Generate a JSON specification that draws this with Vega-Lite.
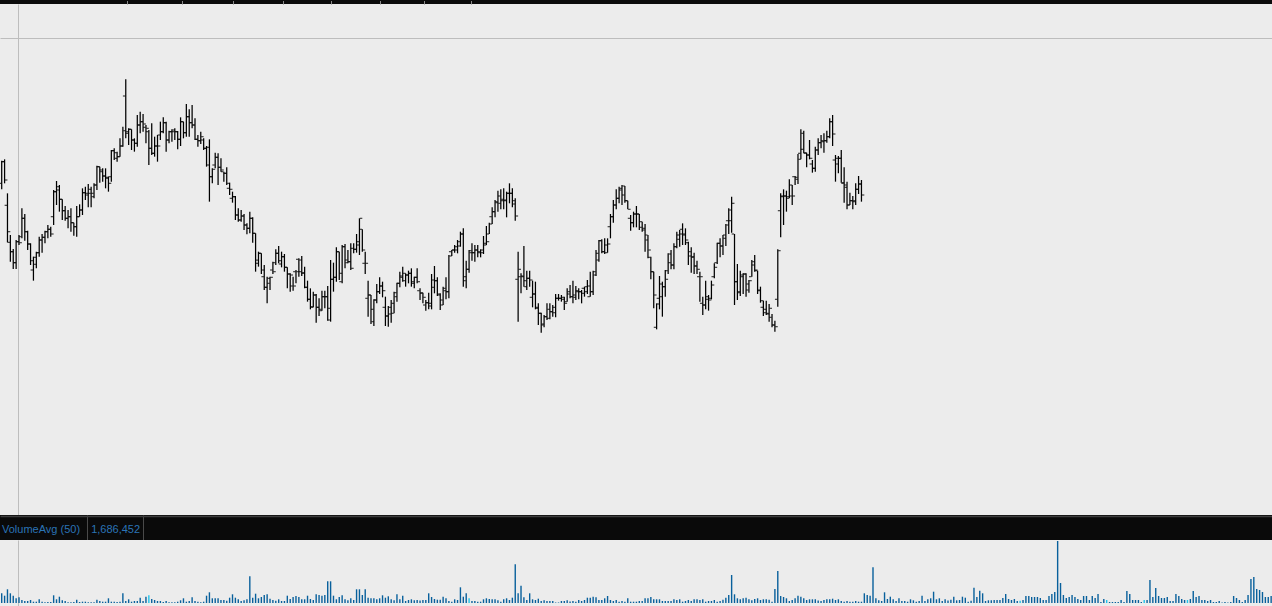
{
"$schema": "https://vega.github.io/schema/vega-lite/v6.json",
"background": "#0c0c0c",
"padding": 0,
"spacing": 0,
"config": {"view": {"stroke": null}, "axis": {"minExtent": 0, "maxExtent": 0, "tickSize": 0, "labels": false, "title": null, "domain": false, "ticks": false}},
"datasets": {
"px": [
{"d":0,"o":116.0,"h":122.8,"l":114.2,"c":122.5},{"d":1,"o":122.5,"h":123.2,"l":116.0,"c":117.0},{"d":2,"o":109.4,"h":113.0,"l":98.3,"c":101.5},{"d":3,"o":98.3,"h":100.5,"l":92.5,"c":95.5},{"d":4,"o":95.5,"h":96.3,"l":90.3,"c":92.2},{"d":5,"o":92.2,"h":99.0,"l":90.3,"c":98.5},{"d":6,"o":98.5,"h":100.5,"l":97.5,"c":98.2},{"d":7,"o":100.0,"h":108.5,"l":99.5,"c":105.5},{"d":8,"o":105.5,"h":106.8,"l":98.8,"c":101.5},{"d":9,"o":101.5,"h":101.8,"l":96.0,"c":97.8},
{"d":10,"o":97.8,"h":98.0,"l":91.5,"c":92.8},{"d":11,"o":90.0,"h":94.0,"l":86.8,"c":91.7},{"d":12,"o":93.8,"h":95.5,"l":90.5,"c":95.2},{"d":13,"o":95.2,"h":100.0,"l":94.0,"c":99.0},{"d":14,"o":99.0,"h":100.8,"l":95.2,"c":99.8},{"d":15,"o":99.8,"h":101.8,"l":98.0,"c":101.5},{"d":16,"o":101.5,"h":103.5,"l":99.5,"c":102.2},{"d":17,"o":102.2,"h":103.0,"l":100.0,"c":100.8},{"d":18,"o":106.0,"h":114.0,"l":103.5,"c":113.5},{"d":19,"o":113.5,"h":116.7,"l":109.5,"c":115.0},
{"d":20,"o":114.0,"h":115.5,"l":107.5,"c":111.2},{"d":21,"o":111.2,"h":111.2,"l":105.0,"c":107.8},{"d":22,"o":107.8,"h":109.2,"l":104.8,"c":105.5},{"d":23,"o":105.5,"h":108.0,"l":102.5,"c":106.0},{"d":24,"o":106.0,"h":108.5,"l":101.5,"c":104.2},{"d":25,"o":104.2,"h":104.2,"l":100.3,"c":103.0},{"d":26,"o":103.0,"h":109.2,"l":100.0,"c":106.0},{"d":27,"o":106.0,"h":109.7,"l":106.0,"c":108.0},{"d":28,"o":108.0,"h":114.5,"l":106.5,"c":113.2},{"d":29,"o":113.2,"h":115.0,"l":111.0,"c":112.5},
{"d":30,"o":113.0,"h":115.8,"l":108.8,"c":114.2},{"d":31,"o":113.0,"h":115.0,"l":108.8,"c":112.0},{"d":32,"o":113.0,"h":116.0,"l":111.5,"c":115.5},{"d":33,"o":115.5,"h":121.3,"l":114.0,"c":121.0},{"d":34,"o":121.0,"h":121.0,"l":116.2,"c":119.5},{"d":35,"o":120.0,"h":120.5,"l":116.5,"c":118.2},{"d":36,"o":118.2,"h":120.5,"l":114.5,"c":117.8},{"d":37,"o":117.5,"h":118.0,"l":113.5,"c":116.0},{"d":38,"o":118.0,"h":126.0,"l":116.5,"c":125.8},{"d":39,"o":125.8,"h":126.5,"l":123.0,"c":123.5},
{"d":40,"o":125.2,"h":125.5,"l":122.5,"c":124.0},{"d":41,"o":124.0,"h":129.5,"l":124.0,"c":127.2},{"d":42,"o":127.2,"h":133.0,"l":127.0,"c":131.8},{"d":43,"o":142.2,"h":147.2,"l":129.5,"c":131.5},{"d":44,"o":131.0,"h":132.5,"l":127.5,"c":132.2},{"d":45,"o":132.2,"h":132.2,"l":126.0,"c":129.0},{"d":46,"o":129.0,"h":129.5,"l":125.5,"c":128.0},{"d":47,"o":128.0,"h":136.5,"l":127.0,"c":133.5},{"d":48,"o":133.5,"h":137.5,"l":131.0,"c":134.5},{"d":49,"o":134.5,"h":136.8,"l":131.5,"c":133.8},
{"d":50,"o":132.8,"h":133.5,"l":128.0,"c":132.5},{"d":51,"o":131.5,"h":132.0,"l":121.5,"c":126.5},{"d":52,"o":126.5,"h":134.0,"l":124.5,"c":125.0},{"d":53,"o":125.0,"h":130.0,"l":124.0,"c":127.2},{"d":54,"o":127.2,"h":130.5,"l":122.5,"c":127.2},{"d":55,"o":130.5,"h":134.5,"l":129.0,"c":131.5},{"d":56,"o":131.5,"h":135.8,"l":131.0,"c":134.2},{"d":57,"o":134.2,"h":134.5,"l":125.5,"c":129.0},{"d":58,"o":129.0,"h":131.8,"l":128.0,"c":131.5},{"d":59,"o":131.5,"h":132.2,"l":128.5,"c":132.0},
{"d":60,"o":131.5,"h":132.5,"l":129.0,"c":131.5},{"d":61,"o":131.5,"h":131.7,"l":126.2,"c":129.2},{"d":62,"o":129.2,"h":135.8,"l":127.2,"c":134.5},{"d":63,"o":134.5,"h":134.5,"l":129.5,"c":131.2},{"d":64,"o":131.2,"h":139.8,"l":130.0,"c":136.0},{"d":65,"o":136.0,"h":138.2,"l":130.0,"c":134.2},{"d":66,"o":134.2,"h":139.5,"l":132.5,"c":133.5},{"d":67,"o":133.5,"h":135.5,"l":129.0,"c":129.2},{"d":68,"o":129.2,"h":130.5,"l":127.0,"c":128.8},{"d":69,"o":128.8,"h":131.5,"l":127.8,"c":130.0},
{"d":70,"o":129.0,"h":129.5,"l":126.0,"c":126.5},{"d":71,"o":126.5,"h":127.2,"l":121.0,"c":126.8},{"d":72,"o":121.5,"h":129.2,"l":110.5,"c":118.0},{"d":73,"o":118.0,"h":120.5,"l":116.0,"c":120.2},{"d":74,"o":121.5,"h":125.2,"l":120.5,"c":123.8},{"d":75,"o":123.8,"h":125.0,"l":115.5,"c":120.8},{"d":76,"o":120.8,"h":123.5,"l":119.5,"c":120.0},{"d":77,"o":119.5,"h":119.5,"l":116.5,"c":119.0},{"d":78,"o":119.0,"h":120.8,"l":115.5,"c":116.0},{"d":79,"o":114.5,"h":116.2,"l":112.5,"c":114.2},
{"d":80,"o":111.5,"h":113.5,"l":110.2,"c":112.0},{"d":81,"o":112.0,"h":112.2,"l":105.0,"c":106.5},{"d":82,"o":106.5,"h":108.5,"l":104.5,"c":105.0},{"d":83,"o":105.0,"h":108.0,"l":104.5,"c":106.2},{"d":84,"o":106.2,"h":106.8,"l":102.0,"c":103.5},{"d":85,"o":103.5,"h":104.0,"l":100.7,"c":102.5},{"d":86,"o":102.5,"h":107.5,"l":101.0,"c":105.5},{"d":87,"o":105.5,"h":105.8,"l":98.2,"c":101.0},{"d":88,"o":101.0,"h":101.0,"l":89.5,"c":93.0},{"d":89,"o":92.0,"h":95.5,"l":91.0,"c":95.0},
{"d":90,"o":95.0,"h":95.0,"l":88.8,"c":90.0},{"d":91,"o":88.0,"h":91.5,"l":84.0,"c":84.8},{"d":92,"o":84.8,"h":88.0,"l":80.0,"c":87.5},{"d":93,"o":86.0,"h":88.0,"l":84.0,"c":87.8},{"d":94,"o":90.0,"h":92.5,"l":88.8,"c":89.5},{"d":95,"o":92.2,"h":96.2,"l":91.5,"c":95.0},{"d":96,"o":95.0,"h":97.2,"l":92.0,"c":92.8},{"d":97,"o":91.8,"h":95.5,"l":90.8,"c":94.0},{"d":98,"o":94.0,"h":94.8,"l":89.5,"c":90.8},{"d":99,"o":90.8,"h":90.8,"l":84.5,"c":88.8},
{"d":100,"o":88.8,"h":89.0,"l":83.5,"c":88.5},{"d":101,"o":85.2,"h":88.0,"l":83.8,"c":85.2},{"d":102,"o":89.5,"h":90.0,"l":86.0,"c":89.5},{"d":103,"o":93.2,"h":93.5,"l":88.0,"c":93.0},{"d":104,"o":89.5,"h":94.2,"l":88.2,"c":89.2},{"d":105,"o":89.0,"h":91.0,"l":84.5,"c":84.8},{"d":106,"o":84.8,"h":86.8,"l":80.5,"c":81.2},{"d":107,"o":81.2,"h":84.5,"l":78.2,"c":78.8},{"d":108,"o":79.0,"h":83.5,"l":78.8,"c":82.5},{"d":109,"o":82.5,"h":82.8,"l":74.2,"c":78.8},
{"d":110,"o":78.8,"h":81.5,"l":76.2,"c":77.8},{"d":111,"o":78.2,"h":83.8,"l":77.8,"c":82.0},{"d":112,"o":82.0,"h":83.8,"l":78.5,"c":82.0},{"d":113,"o":82.0,"h":85.2,"l":74.8,"c":78.5},{"d":114,"o":75.0,"h":93.0,"l":74.5,"c":87.2},{"d":115,"o":87.2,"h":92.2,"l":83.5,"c":87.8},{"d":116,"o":87.8,"h":96.8,"l":86.5,"c":95.5},{"d":117,"o":95.5,"h":95.5,"l":87.0,"c":89.0},{"d":118,"o":86.5,"h":97.5,"l":86.0,"c":97.0},{"d":119,"o":97.0,"h":97.8,"l":90.5,"c":92.2},
{"d":120,"o":93.0,"h":96.0,"l":92.0,"c":92.5},{"d":121,"o":92.5,"h":98.0,"l":90.0,"c":90.5},{"d":122,"o":96.5,"h":98.0,"l":95.0,"c":96.2},{"d":123,"o":96.2,"h":100.8,"l":95.2,"c":98.5},{"d":124,"o":97.5,"h":105.5,"l":94.5,"c":105.5},{"d":125,"o":102.2,"h":102.2,"l":95.5,"c":96.0},{"d":126,"o":92.0,"h":95.5,"l":88.8,"c":92.0},{"d":127,"o":81.5,"h":86.8,"l":76.0,"c":82.5},{"d":128,"o":82.5,"h":82.5,"l":73.8,"c":74.5},{"d":129,"o":78.2,"h":81.2,"l":73.2,"c":81.0},
{"d":130,"o":81.0,"h":85.8,"l":80.0,"c":83.5},{"d":131,"o":83.5,"h":87.8,"l":82.8,"c":85.2},{"d":132,"o":85.2,"h":86.5,"l":81.8,"c":83.8},{"d":133,"o":78.8,"h":82.0,"l":73.2,"c":76.2},{"d":134,"o":76.2,"h":79.2,"l":73.0,"c":78.8},{"d":135,"o":76.8,"h":81.0,"l":74.2,"c":80.0},{"d":136,"o":77.0,"h":83.5,"l":77.0,"c":82.0},{"d":137,"o":83.2,"h":86.2,"l":80.5,"c":86.0},{"d":138,"o":86.0,"h":89.5,"l":84.8,"c":87.8},{"d":139,"o":88.2,"h":91.0,"l":86.5,"c":89.0},
{"d":140,"o":86.8,"h":89.0,"l":85.0,"c":88.5},{"d":141,"o":88.5,"h":89.8,"l":86.0,"c":89.0},{"d":142,"o":89.0,"h":90.5,"l":85.0,"c":86.0},{"d":143,"o":86.5,"h":88.0,"l":84.5,"c":87.8},{"d":144,"o":87.8,"h":90.5,"l":86.0,"c":86.5},{"d":145,"o":83.8,"h":84.5,"l":81.0,"c":83.2},{"d":146,"o":83.0,"h":83.2,"l":80.0,"c":81.8},{"d":147,"o":79.5,"h":81.0,"l":77.8,"c":80.2},{"d":148,"o":80.2,"h":83.2,"l":78.2,"c":79.2},{"d":149,"o":80.0,"h":88.8,"l":78.2,"c":87.0},
{"d":150,"o":84.8,"h":91.2,"l":83.0,"c":86.8},{"d":151,"o":86.8,"h":87.8,"l":82.2,"c":82.5},{"d":152,"o":82.8,"h":83.0,"l":78.0,"c":79.5},{"d":153,"o":81.0,"h":85.0,"l":79.5,"c":83.8},{"d":154,"o":84.5,"h":87.8,"l":81.2,"c":83.5},{"d":155,"o":83.5,"h":94.5,"l":81.5,"c":94.2},{"d":156,"o":95.5,"h":96.0,"l":94.2,"c":96.0},{"d":157,"o":96.0,"h":97.5,"l":95.2,"c":97.0},{"d":158,"o":96.0,"h":99.0,"l":95.0,"c":97.2},{"d":159,"o":98.5,"h":101.5,"l":97.0,"c":100.8},
{"d":160,"o":100.8,"h":102.5,"l":85.0,"c":88.0},{"d":161,"o":86.8,"h":92.8,"l":84.5,"c":90.2},{"d":162,"o":90.2,"h":96.0,"l":89.2,"c":95.2},{"d":163,"o":95.8,"h":98.0,"l":92.8,"c":95.2},{"d":164,"o":95.2,"h":97.5,"l":92.5,"c":96.0},{"d":165,"o":96.0,"h":97.5,"l":93.8,"c":95.2},{"d":166,"o":95.5,"h":96.2,"l":93.8,"c":95.2},{"d":167,"o":96.0,"h":100.2,"l":94.8,"c":97.5},{"d":168,"o":98.0,"h":103.2,"l":97.5,"c":98.5},{"d":169,"o":100.8,"h":104.2,"l":100.8,"c":103.8},
{"d":170,"o":106.0,"h":108.8,"l":103.8,"c":107.5},{"d":171,"o":107.5,"h":111.0,"l":105.8,"c":110.2},{"d":172,"o":110.5,"h":113.8,"l":107.5,"c":110.0},{"d":173,"o":112.2,"h":114.2,"l":108.2,"c":111.2},{"d":174,"o":110.8,"h":114.5,"l":108.2,"c":111.0},{"d":175,"o":110.8,"h":113.5,"l":105.8,"c":113.0},{"d":176,"o":113.0,"h":116.0,"l":110.0,"c":113.0},{"d":177,"o":113.0,"h":114.5,"l":108.8,"c":109.8},{"d":178,"o":110.8,"h":111.5,"l":104.8,"c":106.2},{"d":179,"o":87.2,"h":95.5,"l":74.5,"c":90.2},
{"d":180,"o":88.0,"h":89.0,"l":83.0,"c":88.0},{"d":181,"o":88.2,"h":97.2,"l":85.0,"c":85.0},{"d":182,"o":86.8,"h":89.8,"l":84.0,"c":87.5},{"d":183,"o":87.5,"h":89.8,"l":85.0,"c":87.0},{"d":184,"o":81.8,"h":86.8,"l":78.8,"c":82.8},{"d":185,"o":82.8,"h":86.5,"l":78.2,"c":78.8},{"d":186,"o":78.5,"h":80.0,"l":73.5,"c":77.0},{"d":187,"o":77.0,"h":77.2,"l":71.2,"c":73.8},{"d":188,"o":73.5,"h":76.5,"l":72.8,"c":76.0},{"d":189,"o":76.0,"h":80.0,"l":75.0,"c":78.2},
{"d":190,"o":75.5,"h":80.0,"l":75.2,"c":77.5},{"d":191,"o":77.5,"h":79.5,"l":76.0,"c":77.2},{"d":192,"o":78.8,"h":82.8,"l":75.8,"c":81.5},{"d":193,"o":81.5,"h":82.8,"l":80.8,"c":81.5},{"d":194,"o":81.5,"h":82.5,"l":80.5,"c":81.2},{"d":195,"o":81.8,"h":82.0,"l":78.0,"c":80.0},{"d":196,"o":80.5,"h":84.5,"l":80.5,"c":83.5},{"d":197,"o":82.8,"h":85.5,"l":81.5,"c":82.0},{"d":198,"o":82.0,"h":86.8,"l":80.0,"c":81.8},{"d":199,"o":82.5,"h":85.2,"l":81.0,"c":83.5},
{"d":200,"o":83.8,"h":84.5,"l":81.2,"c":83.5},{"d":201,"o":83.5,"h":84.0,"l":80.0,"c":83.0},{"d":202,"o":84.5,"h":85.0,"l":82.0,"c":85.0},{"d":203,"o":83.5,"h":87.0,"l":82.8,"c":85.2},{"d":204,"o":82.0,"h":89.5,"l":82.0,"c":83.5},{"d":205,"o":83.5,"h":89.8,"l":82.5,"c":88.5},{"d":206,"o":89.5,"h":96.0,"l":88.2,"c":93.0},{"d":207,"o":95.0,"h":99.0,"l":92.5,"c":98.8},{"d":208,"o":98.8,"h":99.2,"l":95.0,"c":95.5},{"d":209,"o":95.5,"h":99.5,"l":94.8,"c":95.2},
{"d":210,"o":97.5,"h":99.5,"l":95.2,"c":97.8},{"d":211,"o":103.0,"h":106.8,"l":99.5,"c":106.0},{"d":212,"o":106.0,"h":111.0,"l":104.2,"c":109.5},{"d":213,"o":109.5,"h":114.2,"l":108.2,"c":111.5},{"d":214,"o":111.5,"h":115.0,"l":110.0,"c":114.5},{"d":215,"o":114.0,"h":115.5,"l":109.5,"c":115.2},{"d":216,"o":112.5,"h":115.2,"l":110.2,"c":110.8},{"d":217,"o":110.8,"h":110.8,"l":108.2,"c":108.2},{"d":218,"o":105.5,"h":106.5,"l":101.8,"c":104.2},{"d":219,"o":104.2,"h":107.5,"l":102.8,"c":106.8},
{"d":220,"o":106.8,"h":109.2,"l":102.8,"c":106.8},{"d":221,"o":106.8,"h":106.8,"l":102.0,"c":104.5},{"d":222,"o":102.8,"h":104.5,"l":101.5,"c":102.5},{"d":223,"o":102.0,"h":103.8,"l":95.5,"c":99.0},{"d":224,"o":100.5,"h":100.5,"l":93.5,"c":96.0},{"d":225,"o":93.8,"h":94.0,"l":87.2,"c":89.5},{"d":226,"o":89.5,"h":89.5,"l":78.5,"c":82.5},{"d":227,"o":72.8,"h":80.0,"l":72.2,"c":79.8},{"d":228,"o":81.5,"h":88.2,"l":78.2,"c":85.8},{"d":229,"o":82.0,"h":86.5,"l":76.0,"c":85.0},
{"d":230,"o":85.0,"h":90.0,"l":82.0,"c":87.2},{"d":231,"o":89.8,"h":95.0,"l":88.8,"c":94.8},{"d":232,"o":92.2,"h":96.0,"l":90.2,"c":91.5},{"d":233,"o":91.5,"h":98.0,"l":90.2,"c":97.0},{"d":234,"o":97.0,"h":101.5,"l":96.5,"c":99.2},{"d":235,"o":100.5,"h":102.0,"l":97.0,"c":100.8},{"d":236,"o":102.2,"h":104.0,"l":97.5,"c":100.5},{"d":237,"o":100.8,"h":102.5,"l":97.5,"c":99.0},{"d":238,"o":98.2,"h":98.5,"l":91.5,"c":94.2},{"d":239,"o":95.5,"h":96.8,"l":89.2,"c":94.0},
{"d":240,"o":93.8,"h":95.2,"l":88.8,"c":91.2},{"d":241,"o":91.2,"h":92.8,"l":88.8,"c":90.2},{"d":242,"o":88.0,"h":89.5,"l":80.5,"c":88.0},{"d":243,"o":80.0,"h":82.0,"l":76.5,"c":79.5},{"d":244,"o":79.5,"h":86.8,"l":78.2,"c":82.0},{"d":245,"o":81.2,"h":82.5,"l":77.8,"c":81.0},{"d":246,"o":81.5,"h":86.8,"l":81.2,"c":85.5},{"d":247,"o":88.0,"h":92.0,"l":87.5,"c":90.8},{"d":248,"o":92.2,"h":98.2,"l":91.8,"c":98.0},{"d":249,"o":98.0,"h":99.5,"l":93.8,"c":97.2},
{"d":250,"o":97.2,"h":100.5,"l":94.5,"c":99.5},{"d":251,"o":100.5,"h":103.8,"l":97.2,"c":103.5},{"d":252,"o":104.8,"h":108.5,"l":100.8,"c":108.0},{"d":253,"o":104.8,"h":112.0,"l":101.2,"c":110.0},{"d":254,"o":100.8,"h":100.8,"l":79.5,"c":86.5},{"d":255,"o":86.5,"h":91.8,"l":81.0,"c":83.5},{"d":256,"o":83.2,"h":89.8,"l":82.2,"c":88.0},{"d":257,"o":88.5,"h":89.0,"l":82.8,"c":88.8},{"d":258,"o":88.8,"h":89.0,"l":82.0,"c":85.8},{"d":259,"o":84.0,"h":87.0,"l":83.2,"c":86.8},
{"d":260,"o":88.0,"h":93.0,"l":88.0,"c":92.5},{"d":261,"o":91.5,"h":94.5,"l":89.5,"c":90.0},{"d":262,"o":89.8,"h":89.8,"l":82.8,"c":84.0},{"d":263,"o":83.8,"h":85.0,"l":80.2,"c":80.8},{"d":264,"o":78.8,"h":80.8,"l":76.2,"c":78.2},{"d":265,"o":77.2,"h":80.8,"l":76.5,"c":76.8},{"d":266,"o":77.0,"h":79.8,"l":74.5,"c":78.5},{"d":267,"o":75.8,"h":76.8,"l":72.8,"c":73.5},{"d":268,"o":73.5,"h":74.8,"l":71.5,"c":73.0},{"d":269,"o":81.2,"h":96.2,"l":79.0,"c":95.8},
{"d":270,"o":107.8,"h":113.0,"l":99.8,"c":112.0},{"d":271,"o":112.2,"h":114.2,"l":103.5,"c":112.2},{"d":272,"o":112.2,"h":113.8,"l":107.5,"c":112.0},{"d":273,"o":111.5,"h":117.2,"l":111.5,"c":115.5},{"d":274,"o":112.2,"h":115.5,"l":109.5,"c":112.2},{"d":275,"o":118.0,"h":118.2,"l":115.5,"c":117.2},{"d":276,"o":117.8,"h":124.8,"l":115.8,"c":123.2},{"d":277,"o":125.0,"h":132.2,"l":123.2,"c":131.0},{"d":278,"o":126.2,"h":131.8,"l":125.0,"c":125.2},{"d":279,"o":125.0,"h":125.2,"l":120.8,"c":124.5},
{"d":280,"o":124.5,"h":129.0,"l":123.2,"c":123.5},{"d":281,"o":121.8,"h":123.0,"l":119.2,"c":120.5},{"d":282,"o":120.5,"h":127.0,"l":119.5,"c":126.0},{"d":283,"o":126.0,"h":129.5,"l":124.5,"c":128.2},{"d":284,"o":128.2,"h":130.5,"l":126.5,"c":128.5},{"d":285,"o":128.8,"h":131.0,"l":125.2,"c":128.8},{"d":286,"o":128.8,"h":131.8,"l":128.2,"c":130.0},{"d":287,"o":130.0,"h":135.5,"l":129.5,"c":134.5},{"d":288,"o":134.5,"h":136.5,"l":127.2,"c":130.8},{"d":289,"o":123.0,"h":124.5,"l":116.5,"c":121.8},
{"d":290,"o":123.5,"h":124.2,"l":119.0,"c":123.5},{"d":291,"o":123.5,"h":126.0,"l":116.2,"c":116.2},{"d":292,"o":116.0,"h":120.8,"l":110.2,"c":114.8},{"d":293,"o":115.5,"h":116.5,"l":108.2,"c":109.5},{"d":294,"o":109.5,"h":113.2,"l":109.5,"c":110.8},{"d":295,"o":110.8,"h":112.2,"l":108.2,"c":110.8},{"d":296,"o":110.5,"h":116.0,"l":109.5,"c":114.2},{"d":297,"o":114.2,"h":118.2,"l":112.8,"c":115.8},{"d":298,"o":115.8,"h":117.0,"l":110.5,"c":112.5}
],
"vol": [
{"d":0,"v":9.7,"k":"a"},{"d":1,"v":7.3,"k":"a"},{"d":2,"v":13.7,"k":"a"},{"d":3,"v":9.7,"k":"a"},{"d":4,"v":7.3,"k":"a"},{"d":5,"v":4.7,"k":"a"},{"d":6,"v":5.7,"k":"a"},{"d":7,"v":3,"k":"a"},{"d":8,"v":2,"k":"a"},{"d":9,"v":2,"k":"a"},
{"d":10,"v":3,"k":"a"},{"d":11,"v":1.3,"k":"a"},{"d":12,"v":1.3,"k":"a"},{"d":13,"v":3.7,"k":"a"},{"d":14,"v":1.3,"k":"a"},{"d":15,"v":0.7,"k":"a"},{"d":16,"v":1,"k":"a"},{"d":17,"v":1,"k":"a"},{"d":18,"v":7.7,"k":"a"},{"d":19,"v":3.7,"k":"a"},
{"d":20,"v":6.3,"k":"a"},{"d":21,"v":2.7,"k":"a"},{"d":22,"v":2,"k":"a"},{"d":23,"v":0.7,"k":"a"},{"d":24,"v":0.7,"k":"a"},{"d":25,"v":1,"k":"a"},{"d":26,"v":3.3,"k":"a"},{"d":27,"v":1,"k":"a"},{"d":28,"v":1.3,"k":"a"},{"d":29,"v":1.3,"k":"a"},
{"d":30,"v":0.7,"k":"a"},{"d":31,"v":0.7,"k":"a"},{"d":32,"v":0.7,"k":"a"},{"d":33,"v":3.3,"k":"a"},{"d":34,"v":2,"k":"a"},{"d":35,"v":1.3,"k":"a"},{"d":36,"v":1.3,"k":"a"},{"d":37,"v":4.7,"k":"a"},{"d":38,"v":1.3,"k":"a"},{"d":39,"v":1.3,"k":"a"},
{"d":40,"v":1,"k":"a"},{"d":41,"v":1.3,"k":"a"},{"d":42,"v":9.7,"k":"a"},{"d":43,"v":2,"k":"a"},{"d":44,"v":3.7,"k":"a"},{"d":45,"v":1.3,"k":"a"},{"d":46,"v":2,"k":"a"},{"d":47,"v":2,"k":"a"},{"d":48,"v":5.3,"k":"a"},{"d":49,"v":2,"k":"a"},
{"d":50,"v":6.3,"k":"a"},{"d":51,"v":7.7,"k":"b"},{"d":52,"v":4,"k":"a"},{"d":53,"v":3,"k":"a"},{"d":54,"v":2,"k":"a"},{"d":55,"v":2,"k":"a"},{"d":56,"v":1,"k":"a"},{"d":57,"v":2,"k":"a"},{"d":58,"v":0.7,"k":"a"},{"d":59,"v":0.7,"k":"a"},
{"d":60,"v":0.7,"k":"a"},{"d":61,"v":1.3,"k":"a"},{"d":62,"v":2.7,"k":"a"},{"d":63,"v":4.7,"k":"a"},{"d":64,"v":1.3,"k":"a"},{"d":65,"v":2,"k":"a"},{"d":66,"v":5.7,"k":"a"},{"d":67,"v":2,"k":"a"},{"d":68,"v":1.3,"k":"a"},{"d":69,"v":0.7,"k":"a"},
{"d":70,"v":1.3,"k":"a"},{"d":71,"v":7.3,"k":"a"},{"d":72,"v":10.7,"k":"a"},{"d":73,"v":4.7,"k":"a"},{"d":74,"v":4.7,"k":"a"},{"d":75,"v":4.7,"k":"a"},{"d":76,"v":3,"k":"a"},{"d":77,"v":3,"k":"a"},{"d":78,"v":2.3,"k":"a"},{"d":79,"v":5.3,"k":"a"},
{"d":80,"v":8.7,"k":"a"},{"d":81,"v":5.3,"k":"a"},{"d":82,"v":3.7,"k":"a"},{"d":83,"v":2,"k":"a"},{"d":84,"v":2.7,"k":"a"},{"d":85,"v":3.7,"k":"a"},{"d":86,"v":26.7,"k":"a"},{"d":87,"v":5.3,"k":"a"},{"d":88,"v":9.3,"k":"a"},{"d":89,"v":4.7,"k":"a"},
{"d":90,"v":6,"k":"a"},{"d":91,"v":8,"k":"a"},{"d":92,"v":8.7,"k":"a"},{"d":93,"v":4.3,"k":"a"},{"d":94,"v":3,"k":"a"},{"d":95,"v":2.3,"k":"a"},{"d":96,"v":3.7,"k":"a"},{"d":97,"v":2,"k":"a"},{"d":98,"v":2,"k":"a"},{"d":99,"v":7.3,"k":"a"},
{"d":100,"v":4,"k":"a"},{"d":101,"v":6,"k":"a"},{"d":102,"v":7,"k":"a"},{"d":103,"v":6,"k":"a"},{"d":104,"v":3.7,"k":"a"},{"d":105,"v":3.7,"k":"a"},{"d":106,"v":7.3,"k":"a"},{"d":107,"v":4,"k":"a"},{"d":108,"v":3,"k":"a"},{"d":109,"v":8.7,"k":"a"},
{"d":110,"v":8,"k":"a"},{"d":111,"v":7.3,"k":"a"},{"d":112,"v":8,"k":"a"},{"d":113,"v":21.7,"k":"a"},{"d":114,"v":21.7,"k":"a"},{"d":115,"v":7.3,"k":"a"},{"d":116,"v":3.7,"k":"a"},{"d":117,"v":6,"k":"a"},{"d":118,"v":7.7,"k":"a"},{"d":119,"v":3.7,"k":"a"},
{"d":120,"v":2.7,"k":"a"},{"d":121,"v":4.7,"k":"a"},{"d":122,"v":3,"k":"a"},{"d":123,"v":13.7,"k":"a"},{"d":124,"v":13.7,"k":"a"},{"d":125,"v":8,"k":"a"},{"d":126,"v":13.7,"k":"a"},{"d":127,"v":5.3,"k":"a"},{"d":128,"v":4.7,"k":"a"},{"d":129,"v":4.7,"k":"a"},
{"d":130,"v":3.7,"k":"a"},{"d":131,"v":4.7,"k":"a"},{"d":132,"v":7.7,"k":"a"},{"d":133,"v":5.3,"k":"a"},{"d":134,"v":6.7,"k":"a"},{"d":135,"v":3.7,"k":"a"},{"d":136,"v":2.7,"k":"a"},{"d":137,"v":8.7,"k":"a"},{"d":138,"v":3.7,"k":"a"},{"d":139,"v":7.3,"k":"a"},
{"d":140,"v":2,"k":"a"},{"d":141,"v":3,"k":"a"},{"d":142,"v":3.7,"k":"a"},{"d":143,"v":2.7,"k":"a"},{"d":144,"v":3,"k":"a"},{"d":145,"v":2.5,"k":"a"},{"d":146,"v":3,"k":"a"},{"d":147,"v":3,"k":"a"},{"d":148,"v":9.7,"k":"a"},{"d":149,"v":6,"k":"a"},
{"d":150,"v":4,"k":"a"},{"d":151,"v":3.3,"k":"a"},{"d":152,"v":3.3,"k":"a"},{"d":153,"v":6.3,"k":"a"},{"d":154,"v":4.7,"k":"a"},{"d":155,"v":2,"k":"a"},{"d":156,"v":1.3,"k":"a"},{"d":157,"v":3.7,"k":"a"},{"d":158,"v":3,"k":"a"},{"d":159,"v":15.7,"k":"a"},
{"d":160,"v":6.3,"k":"a"},{"d":161,"v":9.7,"k":"a"},{"d":162,"v":4.7,"k":"b"},{"d":163,"v":2,"k":"a"},{"d":164,"v":2,"k":"a"},{"d":165,"v":1.3,"k":"a"},{"d":166,"v":1.3,"k":"a"},{"d":167,"v":3.7,"k":"a"},{"d":168,"v":4.7,"k":"a"},{"d":169,"v":4,"k":"a"},
{"d":170,"v":3.7,"k":"a"},{"d":171,"v":3.7,"k":"a"},{"d":172,"v":2.7,"k":"a"},{"d":173,"v":1.3,"k":"a"},{"d":174,"v":3.7,"k":"a"},{"d":175,"v":4.7,"k":"a"},{"d":176,"v":3,"k":"a"},{"d":177,"v":5.3,"k":"a"},{"d":178,"v":38.7,"k":"a"},{"d":179,"v":9.7,"k":"a"},
{"d":180,"v":17.3,"k":"a"},{"d":181,"v":5.7,"k":"a"},{"d":182,"v":3,"k":"a"},{"d":183,"v":9.7,"k":"a"},{"d":184,"v":3.7,"k":"a"},{"d":185,"v":3,"k":"a"},{"d":186,"v":4.3,"k":"a"},{"d":187,"v":2,"k":"a"},{"d":188,"v":2.7,"k":"a"},{"d":189,"v":2,"k":"a"},
{"d":190,"v":2,"k":"a"},{"d":191,"v":2,"k":"a"},{"d":192,"v":0.5,"k":"a"},{"d":193,"v":0.5,"k":"a"},{"d":194,"v":2,"k":"a"},{"d":195,"v":2,"k":"a"},{"d":196,"v":2.7,"k":"a"},{"d":197,"v":1.5,"k":"a"},{"d":198,"v":2,"k":"a"},{"d":199,"v":1.3,"k":"a"},
{"d":200,"v":3,"k":"a"},{"d":201,"v":2,"k":"a"},{"d":202,"v":3,"k":"a"},{"d":203,"v":5.3,"k":"a"},{"d":204,"v":5.3,"k":"a"},{"d":205,"v":6.3,"k":"a"},{"d":206,"v":5.7,"k":"a"},{"d":207,"v":3,"k":"a"},{"d":208,"v":3,"k":"a"},{"d":209,"v":4.7,"k":"a"},
{"d":210,"v":7,"k":"a"},{"d":211,"v":3,"k":"a"},{"d":212,"v":2,"k":"a"},{"d":213,"v":3,"k":"a"},{"d":214,"v":1.3,"k":"a"},{"d":215,"v":2,"k":"a"},{"d":216,"v":1.3,"k":"a"},{"d":217,"v":4.7,"k":"a"},{"d":218,"v":1.3,"k":"a"},{"d":219,"v":1.3,"k":"a"},
{"d":220,"v":1.3,"k":"a"},{"d":221,"v":2,"k":"a"},{"d":222,"v":2,"k":"a"},{"d":223,"v":4.7,"k":"a"},{"d":224,"v":4.7,"k":"a"},{"d":225,"v":6,"k":"a"},{"d":226,"v":3.7,"k":"a"},{"d":227,"v":3.7,"k":"a"},{"d":228,"v":3.7,"k":"a"},{"d":229,"v":2,"k":"a"},
{"d":230,"v":2,"k":"a"},{"d":231,"v":2,"k":"a"},{"d":232,"v":2,"k":"a"},{"d":233,"v":3.7,"k":"a"},{"d":234,"v":3,"k":"a"},{"d":235,"v":3.7,"k":"a"},{"d":236,"v":1.3,"k":"a"},{"d":237,"v":2,"k":"a"},{"d":238,"v":3,"k":"a"},{"d":239,"v":2,"k":"a"},
{"d":240,"v":3.7,"k":"a"},{"d":241,"v":3.7,"k":"a"},{"d":242,"v":3,"k":"a"},{"d":243,"v":3.7,"k":"a"},{"d":244,"v":1.3,"k":"a"},{"d":245,"v":2,"k":"a"},{"d":246,"v":2,"k":"a"},{"d":247,"v":3,"k":"a"},{"d":248,"v":1.3,"k":"a"},{"d":249,"v":2,"k":"a"},
{"d":250,"v":3.3,"k":"a"},{"d":251,"v":5.3,"k":"a"},{"d":252,"v":8,"k":"a"},{"d":253,"v":28,"k":"a"},{"d":254,"v":8.7,"k":"a"},{"d":255,"v":4.7,"k":"a"},{"d":256,"v":3.7,"k":"a"},{"d":257,"v":4.7,"k":"a"},{"d":258,"v":5.3,"k":"a"},{"d":259,"v":3.7,"k":"a"},
{"d":260,"v":2.7,"k":"a"},{"d":261,"v":4,"k":"a"},{"d":262,"v":4.7,"k":"a"},{"d":263,"v":3,"k":"a"},{"d":264,"v":3.7,"k":"a"},{"d":265,"v":3.7,"k":"a"},{"d":266,"v":3.3,"k":"a"},{"d":267,"v":1.3,"k":"a"},{"d":268,"v":14,"k":"a"},{"d":269,"v":32,"k":"a"},
{"d":270,"v":7,"k":"a"},{"d":271,"v":6,"k":"a"},{"d":272,"v":4.7,"k":"a"},{"d":273,"v":2,"k":"a"},{"d":274,"v":3,"k":"a"},{"d":275,"v":4.7,"k":"a"},{"d":276,"v":7.3,"k":"a"},{"d":277,"v":6.3,"k":"a"},{"d":278,"v":4.7,"k":"a"},{"d":279,"v":3,"k":"a"},
{"d":280,"v":3.7,"k":"a"},{"d":281,"v":3.7,"k":"a"},{"d":282,"v":3.7,"k":"a"},{"d":283,"v":2.5,"k":"a"},{"d":284,"v":2,"k":"a"},{"d":285,"v":3,"k":"a"},{"d":286,"v":3.7,"k":"a"},{"d":287,"v":3.7,"k":"a"},{"d":288,"v":4.3,"k":"a"},{"d":289,"v":3,"k":"a"},
{"d":290,"v":3.7,"k":"a"},{"d":291,"v":2,"k":"a"},{"d":292,"v":1.3,"k":"a"},{"d":293,"v":2,"k":"a"},{"d":294,"v":1.3,"k":"a"},{"d":295,"v":1.3,"k":"a"},{"d":296,"v":2,"k":"a"},{"d":297,"v":1.3,"k":"a"},{"d":298,"v":1.3,"k":"a"},{"d":299,"v":9.7,"k":"a"},
{"d":300,"v":8,"k":"a"},{"d":301,"v":7.3,"k":"a"},{"d":302,"v":35.7,"k":"a"},{"d":303,"v":4.7,"k":"a"},{"d":304,"v":2.7,"k":"a"},{"d":305,"v":2,"k":"a"},{"d":306,"v":10.7,"k":"a"},{"d":307,"v":4,"k":"a"},{"d":308,"v":6.3,"k":"a"},{"d":309,"v":3.7,"k":"a"},
{"d":310,"v":2,"k":"a"},{"d":311,"v":4.7,"k":"a"},{"d":312,"v":2,"k":"a"},{"d":313,"v":2,"k":"a"},{"d":314,"v":1.3,"k":"a"},{"d":315,"v":3.7,"k":"a"},{"d":316,"v":2.7,"k":"a"},{"d":317,"v":1.3,"k":"a"},{"d":318,"v":2,"k":"a"},{"d":319,"v":7.3,"k":"a"},
{"d":320,"v":2,"k":"a"},{"d":321,"v":3.7,"k":"a"},{"d":322,"v":4.7,"k":"a"},{"d":323,"v":11.3,"k":"a"},{"d":324,"v":3.7,"k":"a"},{"d":325,"v":4.7,"k":"a"},{"d":326,"v":2,"k":"a"},{"d":327,"v":3.7,"k":"a"},{"d":328,"v":2.5,"k":"a"},{"d":329,"v":3.3,"k":"a"},
{"d":330,"v":6.3,"k":"a"},{"d":331,"v":2.7,"k":"a"},{"d":332,"v":3,"k":"a"},{"d":333,"v":6.3,"k":"a"},{"d":334,"v":5.3,"k":"a"},{"d":335,"v":1.3,"k":"a"},{"d":336,"v":2.3,"k":"a"},{"d":337,"v":15.3,"k":"a"},{"d":338,"v":6,"k":"a"},{"d":339,"v":12.3,"k":"a"},
{"d":340,"v":9.7,"k":"a"},{"d":341,"v":2,"k":"a"},{"d":342,"v":2.7,"k":"a"},{"d":343,"v":2.7,"k":"a"},{"d":344,"v":3,"k":"a"},{"d":345,"v":3,"k":"a"},{"d":346,"v":3,"k":"a"},{"d":347,"v":5,"k":"a"},{"d":348,"v":9,"k":"a"},{"d":349,"v":4,"k":"a"},
{"d":350,"v":3,"k":"a"},{"d":351,"v":4,"k":"a"},{"d":352,"v":2,"k":"a"},{"d":353,"v":2.3,"k":"b"},{"d":354,"v":3,"k":"a"},{"d":355,"v":7,"k":"a"},{"d":356,"v":7,"k":"a"},{"d":357,"v":6,"k":"a"},{"d":358,"v":6,"k":"a"},{"d":359,"v":6,"k":"a"},
{"d":360,"v":5,"k":"a"},{"d":361,"v":3,"k":"a"},{"d":362,"v":3,"k":"a"},{"d":363,"v":7,"k":"a"},{"d":364,"v":9,"k":"a"},{"d":365,"v":11,"k":"a"},{"d":366,"v":62,"k":"a"},{"d":367,"v":20,"k":"a"},{"d":368,"v":8,"k":"a"},{"d":369,"v":5,"k":"a"},
{"d":370,"v":6,"k":"a"},{"d":371,"v":8,"k":"a"},{"d":372,"v":6,"k":"a"},{"d":373,"v":4,"k":"a"},{"d":374,"v":3,"k":"a"},{"d":375,"v":7,"k":"a"},{"d":376,"v":7,"k":"a"},{"d":377,"v":3,"k":"a"},{"d":378,"v":7,"k":"a"},{"d":379,"v":5,"k":"a"},
{"d":380,"v":9,"k":"a"},{"d":381,"v":1,"k":"a"},{"d":382,"v":4,"k":"a"},{"d":383,"v":3,"k":"b"},{"d":384,"v":1,"k":"a"},{"d":385,"v":1,"k":"a"},{"d":386,"v":1,"k":"a"},{"d":387,"v":1,"k":"a"},{"d":388,"v":3,"k":"a"},{"d":389,"v":1,"k":"a"},
{"d":390,"v":12,"k":"a"},{"d":391,"v":9,"k":"a"},{"d":392,"v":3,"k":"a"},{"d":393,"v":3,"k":"a"},{"d":394,"v":3,"k":"a"},{"d":395,"v":1,"k":"a"},{"d":396,"v":3,"k":"b"},{"d":397,"v":3,"k":"a"},{"d":398,"v":23,"k":"a"},{"d":399,"v":6,"k":"a"},
{"d":400,"v":15,"k":"a"},{"d":401,"v":7,"k":"a"},{"d":402,"v":5,"k":"a"},{"d":403,"v":5,"k":"a"},{"d":404,"v":6,"k":"a"},{"d":405,"v":2,"k":"a"},{"d":406,"v":2,"k":"a"},{"d":407,"v":9,"k":"a"},{"d":408,"v":7,"k":"a"},{"d":409,"v":4,"k":"a"},
{"d":410,"v":3,"k":"a"},{"d":411,"v":3,"k":"b"},{"d":412,"v":4,"k":"a"},{"d":413,"v":12,"k":"a"},{"d":414,"v":6,"k":"a"},{"d":415,"v":7,"k":"a"},{"d":416,"v":3,"k":"a"},{"d":417,"v":3,"k":"a"},{"d":418,"v":2,"k":"a"},{"d":419,"v":3,"k":"a"},
{"d":420,"v":1,"k":"a"},{"d":421,"v":1,"k":"a"},{"d":422,"v":2,"k":"a"},{"d":423,"v":0.5,"k":"a"},{"d":424,"v":1,"k":"a"},{"d":425,"v":0.5,"k":"a"},{"d":426,"v":1,"k":"a"},{"d":427,"v":7,"k":"a"},{"d":428,"v":5,"k":"a"},{"d":429,"v":3,"k":"a"},
{"d":430,"v":1,"k":"a"},{"d":431,"v":3,"k":"a"},{"d":432,"v":8,"k":"a"},{"d":433,"v":24,"k":"a"},{"d":434,"v":26,"k":"a"},{"d":435,"v":14,"k":"a"},{"d":436,"v":13,"k":"a"},{"d":437,"v":11,"k":"a"},{"d":438,"v":6,"k":"a"},{"d":439,"v":6,"k":"a"},
{"d":440,"v":7,"k":"a"}
],
"lab": [{"t":"VolumeAvg (50)","d":0.1},{"t":"1,686,452","d":31}]
},
"vconcat": [
{
"width": 1272, "height": 511,
"view": {"fill": "#ececec", "stroke": null},
"data": {"name": "px"},
"encoding": {
"x": {"field": "d", "type": "quantitative", "scale": {"domain": [-0.59, 440.3], "nice": false, "zero": false},
"axis": {"orient": "top", "values": [5.65, 43.43, 62.5, 80.17, 97.5, 114.14, 131.1, 146.4, 162.7], "tickSize": 3.5, "ticks": true, "minExtent": 0, "maxExtent": 0,
"tickColor": {"condition": {"test": "datum.value < 10", "value": "rgba(0,0,0,0)"}, "value": "#8a8a8a"},
"grid": true, "gridColor": {"condition": {"test": "datum.value < 10", "value": "#bdbdbd"}, "value": "rgba(0,0,0,0)"},
"labels": false, "domain": false, "title": null}}
},
"layer": [
{"mark": {"type": "rule", "color": "#000000", "strokeWidth": 1.25, "clip": true},
"encoding": {"y": {"field": "l", "type": "quantitative", "scale": {"domain": [16.5, 169.8], "nice": false, "zero": false}, "axis": {"values": [159.6], "grid": true, "gridColor": "#bdbdbd", "ticks": false, "tickSize": 0, "minExtent": 0, "maxExtent": 0, "labels": false, "domain": false, "title": null}}, "y2": {"field": "h"}}},
{"mark": {"type": "tick", "orient": "horizontal", "color": "#000000", "size": 2.5, "thickness": 1.25, "xOffset": -1.6, "clip": true},
"encoding": {"y": {"field": "o", "type": "quantitative", "scale": {"domain": [16.5, 169.8], "nice": false, "zero": false}, "axis": {"values": [159.6], "grid": true, "gridColor": "#bdbdbd", "ticks": false, "tickSize": 0, "minExtent": 0, "maxExtent": 0, "labels": false, "domain": false, "title": null}}}},
{"mark": {"type": "tick", "orient": "horizontal", "color": "#000000", "size": 2.5, "thickness": 1.25, "xOffset": 1.6, "clip": true},
"encoding": {"y": {"field": "c", "type": "quantitative", "scale": {"domain": [16.5, 169.8], "nice": false, "zero": false}, "axis": {"values": [159.6], "grid": true, "gridColor": "#bdbdbd", "ticks": false, "tickSize": 0, "minExtent": 0, "maxExtent": 0, "labels": false, "domain": false, "title": null}}}}
]
},
{
"width": 1272, "height": 25,
"view": {"fill": "#0a0a0a", "stroke": null},
"data": {"name": "lab"},
"mark": {"type": "text", "align": "left", "baseline": "middle", "font": "Liberation Sans", "fontSize": 11, "color": "#2a74b6"},
"encoding": {
"x": {"field": "d", "type": "quantitative", "scale": {"domain": [-0.59, 440.3], "nice": false, "zero": false},
"axis": {"values": [29.6, 49.0], "grid": true, "gridColor": "#4a4a4a", "ticks": false, "tickSize": 0, "minExtent": 0, "maxExtent": 0, "labels": false, "domain": false, "title": null}},
"y": {"datum": 10.5, "type": "quantitative", "scale": {"domain": [0, 25], "nice": false, "zero": false},
"axis": {"values": [24.3], "grid": true, "gridColor": "#3e3e3e", "gridWidth": 1.5, "ticks": false, "tickSize": 0, "minExtent": 0, "maxExtent": 0, "labels": false, "domain": false, "title": null}},
"text": {"field": "t"}
}
},
{
"width": 1272, "height": 66,
"view": {"fill": "#ececec", "stroke": null},
"data": {"name": "vol"},
"mark": {"type": "rule", "strokeWidth": 1.4, "clip": true},
"encoding": {
"x": {"field": "d", "type": "quantitative", "scale": {"domain": [-0.59, 440.3], "nice": false, "zero": false},
"axis": {"values": [5.65], "grid": true, "gridColor": "#bdbdbd", "ticks": false, "tickSize": 0, "minExtent": 0, "maxExtent": 0, "labels": false, "domain": false, "title": null}},
"y": {"field": "v", "type": "quantitative", "scale": {"domain": [-3, 63], "nice": false, "zero": false}, "axis": null},
"y2": {"datum": 0},
"color": {"field": "k", "type": "nominal", "scale": {"domain": ["a", "b"], "range": ["#08609c", "#1fc4ea"]}, "legend": null}
}
}
]
}
